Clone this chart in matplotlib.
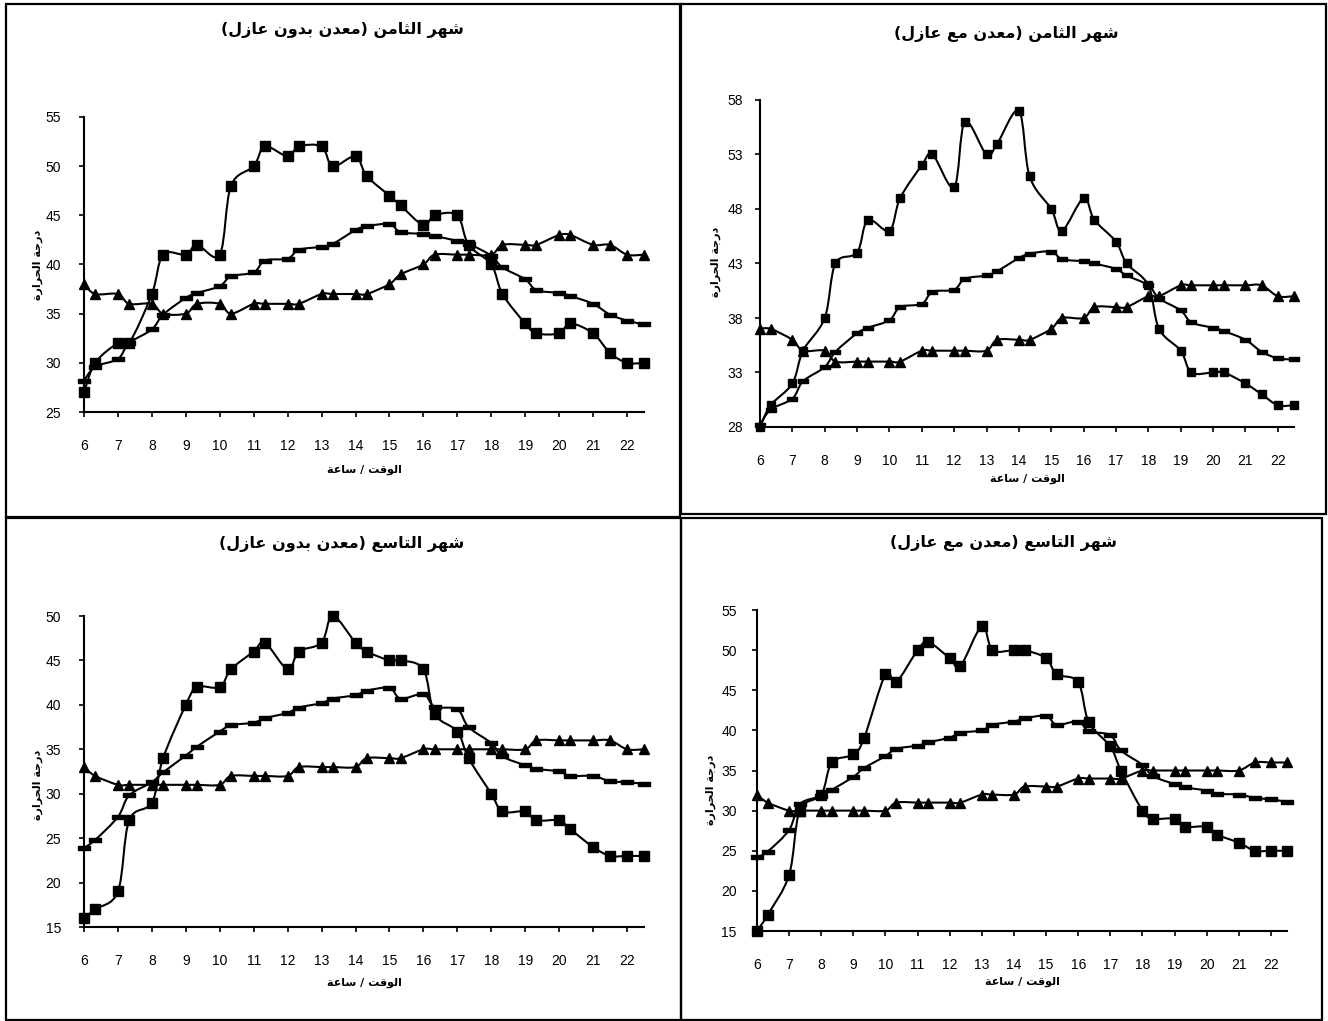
import matplotlib
matplotlib.use("Agg")
import matplotlib.pyplot as plt
from matplotlib.path import Path
from matplotlib.patches import PathPatch, Rectangle

plt.rcParams['font.family'] = ['Liberation Sans', 'DejaVu Sans']

# time of day (hours) - readings at the hour and 20 min past, half hours at the end
hours = [6, 6.33, 7, 7.33, 8, 8.33, 9, 9.33, 10, 10.33, 11, 11.33, 12, 12.33,
         13, 13.33, 14, 14.33, 15, 15.33, 16, 16.33, 17, 17.33, 18, 18.33,
         19, 19.33, 20, 20.33, 21, 21.5, 22, 22.5]
hour_ticks = list(range(6, 23))

# August, metal without insulation
aug_bare_sq = [27, 30, 32, 32, 37, 41, 41, 42, 41, 48, 50, 52, 51, 52, 52, 50, 51,
               49, 47, 46, 44, 45, 45, 42, 40, 37, 34, 33, 33, 34, 33, 31, 30, 30]
aug_bare_tri = [38, 37, 37, 36, 36, 35, 35, 36, 36, 35, 36, 36, 36, 36, 37, 37, 37,
                37, 38, 39, 40, 41, 41, 41, 41, 42, 42, 42, 43, 43, 42, 42, 41, 41]
aug_bare_dash = [28.2, 29.6, 30.4, 32.0, 33.4, 34.9, 36.6, 37.1, 37.8, 38.8, 39.2,
                 40.4, 40.6, 41.5, 41.8, 42.1, 43.5, 43.9, 44.1, 43.3, 43.1, 42.9,
                 42.4, 42.1, 40.9, 39.7, 38.5, 37.4, 37.1, 36.8, 36.0, 34.9, 34.3, 33.9]

# August, metal with insulation
aug_ins_sq = [28, 30, 32, 35, 38, 43, 44, 47, 46, 49, 52, 53, 50, 56, 53, 54, 57,
              51, 48, 46, 49, 47, 45, 43, 41, 37, 35, 33, 33, 33, 32, 31, 30, 30]
aug_ins_tri = [37, 37, 36, 35, 35, 34, 34, 34, 34, 34, 35, 35, 35, 35, 35, 36, 36,
               36, 37, 38, 38, 39, 39, 39, 40, 40, 41, 41, 41, 41, 41, 41, 40, 40]
aug_ins_dash = [28.2, 29.6, 30.6, 32.2, 33.5, 34.9, 36.6, 37.1, 37.8, 39.0, 39.3,
                40.4, 40.6, 41.6, 41.9, 42.3, 43.5, 43.9, 44.1, 43.4, 43.2, 43.0,
                42.5, 41.9, 41.0, 39.8, 38.7, 37.6, 37.1, 36.8, 36.0, 34.9, 34.3, 34.2]

# September, metal without insulation
sep_bare_sq = [16, 17, 19, 27, 29, 34, 40, 42, 42, 44, 46, 47, 44, 46, 47, 50, 47,
               46, 45, 45, 44, 39, 37, 34, 30, 28, 28, 27, 27, 26, 24, 23, 23, 23]
sep_bare_tri = [33, 32, 31, 31, 31, 31, 31, 31, 31, 32, 32, 32, 32, 33, 33, 33, 33,
                34, 34, 34, 35, 35, 35, 35, 35, 35, 35, 36, 36, 36, 36, 36, 35, 35]
sep_bare_dash = [23.9, 24.8, 27.4, 29.8, 31.3, 32.4, 34.3, 35.3, 37.0, 37.7, 38.0,
                 38.5, 39.1, 39.7, 40.2, 40.7, 41.1, 41.6, 41.9, 40.7, 41.2, 39.8,
                 39.5, 37.5, 35.7, 34.2, 33.2, 32.8, 32.5, 32.0, 32.0, 31.4, 31.3, 31.1]

# September, metal with insulation
sep_ins_sq = [15, 17, 22, 30, 32, 36, 37, 39, 47, 46, 50, 51, 49, 48, 53, 50, 50,
              50, 49, 47, 46, 41, 38, 35, 30, 29, 29, 28, 28, 27, 26, 25, 25, 25]
sep_ins_tri = [32, 31, 30, 30, 30, 30, 30, 30, 30, 31, 31, 31, 31, 31, 32, 32, 32,
               33, 33, 33, 34, 34, 34, 34, 35, 35, 35, 35, 35, 35, 35, 36, 36, 36]
sep_ins_dash = [24.2, 24.9, 27.6, 30.8, 31.8, 32.6, 34.2, 35.3, 36.8, 37.7, 38.1,
                38.5, 39.1, 39.7, 40.0, 40.7, 41.1, 41.5, 41.8, 40.7, 41.1, 39.9,
                39.4, 37.5, 35.7, 34.3, 33.3, 32.9, 32.5, 32.1, 32.0, 31.6, 31.4, 31.1]

titles = ['شهر الثامن (معدن بدون عازل)', 'شهر الثامن (معدن مع عازل)',
          'شهر التاسع (معدن بدون عازل)', 'شهر التاسع (معدن مع عازل)']
ylabel = 'درجة الحرارة'
xlabel = 'الوقت / ساعة'

# arabic contextual forms: isolated, final, initial, medial
FORMS = {
    'ا': ('\ufe8d', '\ufe8e', None, None),
    'ب': ('\ufe8f', '\ufe90', '\ufe91', '\ufe92'),
    'ة': ('\ufe93', '\ufe94', None, None),
    'ت': ('\ufe95', '\ufe96', '\ufe97', '\ufe98'),
    'ث': ('\ufe99', '\ufe9a', '\ufe9b', '\ufe9c'),
    'ج': ('\ufe9d', '\ufe9e', '\ufe9f', '\ufea0'),
    'ح': ('\ufea1', '\ufea2', '\ufea3', '\ufea4'),
    'د': ('\ufea9', '\ufeaa', None, None),
    'ر': ('\ufead', '\ufeae', None, None),
    'ز': ('\ufeaf', '\ufeb0', None, None),
    'س': ('\ufeb1', '\ufeb2', '\ufeb3', '\ufeb4'),
    'ش': ('\ufeb5', '\ufeb6', '\ufeb7', '\ufeb8'),
    'ع': ('\ufec9', '\ufeca', '\ufecb', '\ufecc'),
    'ق': ('\ufed5', '\ufed6', '\ufed7', '\ufed8'),
    'ل': ('\ufedd', '\ufede', '\ufedf', '\ufee0'),
    'م': ('\ufee1', '\ufee2', '\ufee3', '\ufee4'),
    'ن': ('\ufee5', '\ufee6', '\ufee7', '\ufee8'),
    'ه': ('\ufee9', '\ufeea', '\ufeeb', '\ufeec'),
    'و': ('\ufeed', '\ufeee', None, None),
}


def ar(s):
    out = []
    for i, c in enumerate(s):
        if c not in FORMS:
            out.append(c)
            continue
        prev = s[i - 1] if i > 0 else ''
        nxt = s[i + 1] if i + 1 < len(s) else ''
        jp = prev in FORMS and FORMS[prev][2] is not None
        jn = nxt in FORMS and FORMS[c][2] is not None
        f = FORMS[c]
        if jp and jn:
            out.append(f[3])
        elif jp:
            out.append(f[1])
        elif jn:
            out.append(f[2])
        else:
            out.append(f[0])
    return ''.join(out)[::-1].translate(str.maketrans('()', ')('))


def smooth_path(x, y):
    # excel-like smoothed line as cubic bezier segments
    pts = list(zip(x, y))
    verts = [pts[0]]
    codes = [Path.MOVETO]
    n = len(pts)
    for i in range(n - 1):
        p0 = pts[i - 1] if i > 0 else pts[i]
        p1 = pts[i]
        p2 = pts[i + 1]
        p3 = pts[i + 2] if i + 2 < n else pts[i + 1]
        c1 = (p1[0] + (p2[0] - p0[0]) / 6, p1[1] + (p2[1] - p0[1]) / 6)
        c2 = (p2[0] - (p3[0] - p1[0]) / 6, p2[1] - (p3[1] - p1[1]) / 6)
        verts += [c1, c2, p2]
        codes += [Path.CURVE4] * 3
    return Path(verts, codes)


W, H = 1328, 1021
fig = plt.figure(figsize=(W / 100, H / 100), dpi=100)

dash = [(-1, -0.32), (1, -0.32), (1, 0.32), (-1, 0.32), (-1, -0.32)]

panels = [
    # x0, x1, ytop, ybot, ylim, yticks, series, marker size, ytick pad, title xy, ylabel xy, xlabel xy
    (84, 644, 117, 412, (25, 55), range(25, 56, 5),
     (aug_bare_sq, aug_bare_tri, aug_bare_dash), 7, 13, (342, 30), (38, 265), (364, 470)),
    (760, 1294, 100, 427, (28, 58), range(28, 59, 5),
     (aug_ins_sq, aug_ins_tri, aug_ins_dash), 6, 9, (1006, 34), (716, 262), (1027, 479)),
    (84, 644, 616, 927, (15, 50), range(15, 51, 5),
     (sep_bare_sq, sep_bare_tri, sep_bare_dash), 7, 13, (342, 544), (38, 785), (364, 983)),
    (757, 1287, 610, 931, (15, 55), range(15, 56, 5),
     (sep_ins_sq, sep_ins_tri, sep_ins_dash), 7, 11, (1004, 543), (711, 790), (1022, 982)),
]

for k, (x0, x1, yt, yb, ylim, yticks, series, ms, ypad, tpos, ylpos, xlpos) in enumerate(panels):
    ax = fig.add_axes([x0 / W, 1 - yb / H, (x1 - x0) / W, (yb - yt) / H])
    ax.set_xlim(6, 22.5)
    ax.set_ylim(*ylim)
    for vals, mk, size in zip(series, ['s', '^', dash], [ms, ms + 0.5, ms + 1.5]):
        ax.add_patch(PathPatch(smooth_path(hours, vals), fill=False, lw=1.5,
                               edgecolor='black', clip_on=False, zorder=2))
        ax.plot(hours, vals, ls='none', marker=mk, ms=size, color='black',
                clip_on=False, zorder=3)
    for s in ['top', 'right']:
        ax.spines[s].set_visible(False)
    for s in ['left', 'bottom']:
        ax.spines[s].set_linewidth(1.5)
    ax.set_xticks(hour_ticks)
    ax.set_yticks(list(yticks))
    ax.tick_params(axis='x', direction='out', length=3.5, width=1.2, pad=16, labelsize=10)
    ax.tick_params(axis='y', direction='out', length=3.5, width=1.2, pad=ypad, labelsize=10)

    fig.text(tpos[0] / W, 1 - tpos[1] / H, ar(titles[k]), ha='center', va='center',
             fontsize=11.5, fontweight='bold', family=['DejaVu Sans'])
    fig.text(ylpos[0] / W, 1 - ylpos[1] / H, ar(ylabel), ha='center', va='center',
             rotation=90, fontsize=8, fontweight='bold', family=['DejaVu Sans'])
    fig.text(xlpos[0] / W, 1 - xlpos[1] / H, ar(xlabel), ha='center', va='center',
             fontsize=8, fontweight='bold', family=['DejaVu Sans'])

# panel frames
for (bx0, by0, bx1, by1) in [(6, 4, 680, 517), (681, 4, 1326, 514),
                             (6, 518, 681, 1020), (681, 518, 1322, 1020)]:
    fig.add_artist(Rectangle((bx0 / W, 1 - by1 / H), (bx1 - bx0) / W, (by1 - by0) / H,
                             transform=fig.transFigure, fill=False, lw=1.6,
                             edgecolor='black'))

fig.savefig('out.png', dpi=100)
